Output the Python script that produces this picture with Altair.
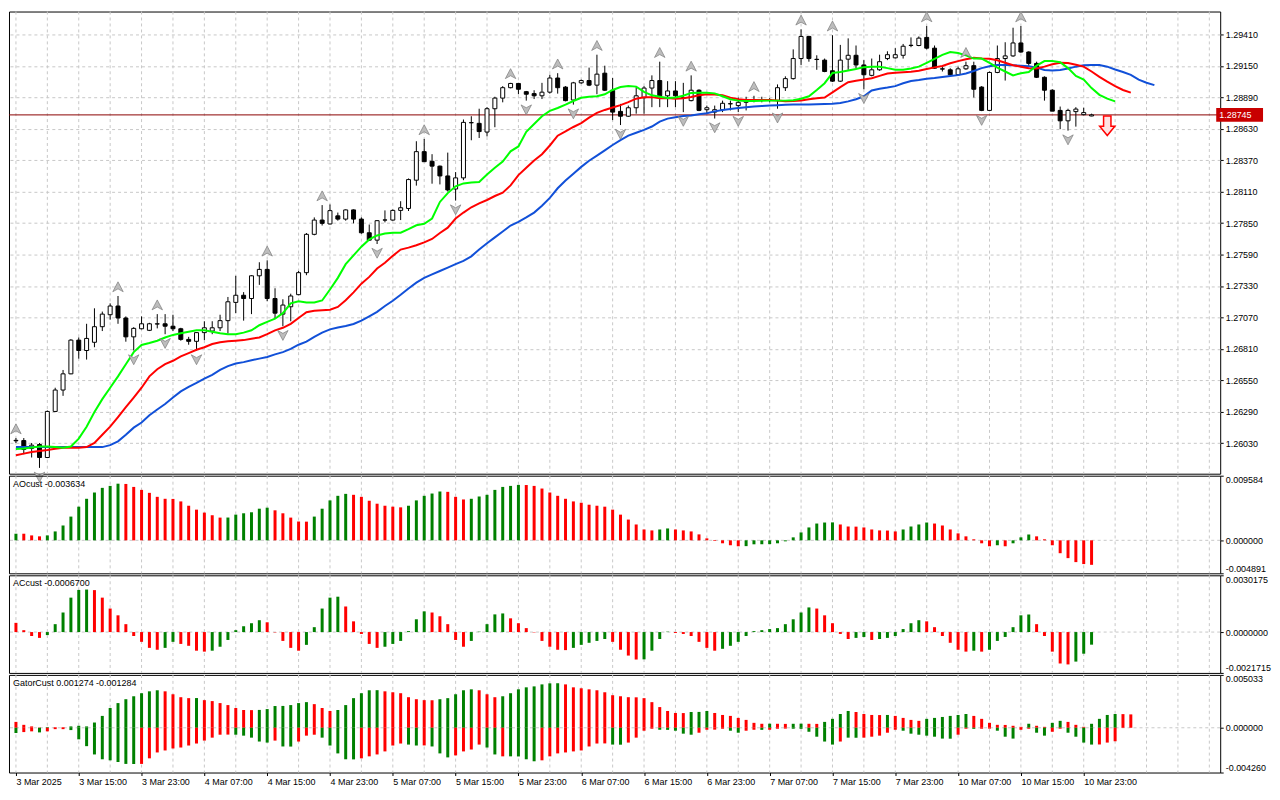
import altair as alt
import pandas as pd

FONT = "Liberation Sans"
FS = 9

# ---------------- price data (H1 bars, index 0 = 3 Mar 07:00) ----------------
OPEN = [1.26053, 1.26051, 1.25986, 1.26018, 1.25911, 1.26292, 1.26469, 1.26603, 1.26882, 1.26796,
        1.26864, 1.26993, 1.27092, 1.27164, 1.27065, 1.26909, 1.26976, 1.26963, 1.27015, 1.27017,
        1.26997, 1.26976, 1.26888, 1.26872, 1.26944, 1.26957, 1.26984, 1.27043, 1.27194, 1.27253,
        1.27226, 1.27414, 1.27467, 1.27226, 1.27097, 1.27158, 1.27258, 1.27440, 1.27757, 1.27875,
        1.27843, 1.27910, 1.27883, 1.27959, 1.27883, 1.27770, 1.27709, 1.27875, 1.27875, 1.27955,
        1.27971, 1.28205, 1.28441, 1.28361, 1.28321, 1.28240, 1.28132, 1.28224, 1.28681, 1.28675,
        1.28603, 1.28796, 1.28884, 1.28970, 1.29005, 1.28937, 1.28921, 1.28903, 1.28933, 1.29050,
        1.28975, 1.28868, 1.29010, 1.29029, 1.28991, 1.29090, 1.28949, 1.28774, 1.28734, 1.28804,
        1.28887, 1.28967, 1.29029, 1.28903, 1.28943, 1.28884, 1.28863, 1.28949, 1.28788, 1.28768,
        1.28788, 1.28836, 1.28822, 1.28849, 1.28868, 1.28868, 1.28867, 1.28863, 1.28970, 1.29045,
        1.29211, 1.29394, 1.29205, 1.29198, 1.29110, 1.29024, 1.29206, 1.29238, 1.29158, 1.29072,
        1.29118, 1.29211, 1.29217, 1.29238, 1.29319, 1.29319, 1.29386, 1.29297, 1.29126, 1.29118,
        1.29077, 1.29126, 1.29152, 1.28975, 1.28782, 1.29096, 1.29211, 1.29233, 1.29340, 1.29265,
        1.29171, 1.29056, 1.28949, 1.28782, 1.28696, 1.28772, 1.28747, 1.28736]
HIGH = [1.26072, 1.26072, 1.26031, 1.26031, 1.26300, 1.26488, 1.26635, 1.26890, 1.26904, 1.27017,
        1.27145, 1.27118, 1.27186, 1.27247, 1.27078, 1.26989, 1.27078, 1.27025, 1.27097, 1.27097,
        1.27092, 1.26984, 1.26909, 1.26947, 1.27038, 1.27038, 1.27092, 1.27239, 1.27414, 1.27279,
        1.27419, 1.27526, 1.27542, 1.27311, 1.27220, 1.27266, 1.27454, 1.27768, 1.27897, 1.27999,
        1.28004, 1.27937, 1.27963, 1.27963, 1.27897, 1.27838, 1.27875, 1.27955, 1.27963, 1.28031,
        1.28219, 1.28527, 1.28546, 1.28420, 1.28326, 1.28433, 1.28272, 1.28707, 1.28734, 1.28796,
        1.28809, 1.28895, 1.28983, 1.29010, 1.29010, 1.28943, 1.28949, 1.29010, 1.29077, 1.29090,
        1.28983, 1.29018, 1.29037, 1.29136, 1.29243, 1.29152, 1.29050, 1.28836, 1.28822, 1.28975,
        1.28983, 1.29072, 1.29185, 1.29024, 1.29024, 1.29010, 1.29072, 1.28957, 1.28822, 1.28822,
        1.28863, 1.28863, 1.28889, 1.28895, 1.28903, 1.28895, 1.28884, 1.28997, 1.29064, 1.29287,
        1.29453, 1.29399, 1.29238, 1.29211, 1.29404, 1.29324, 1.29378, 1.29319, 1.29198, 1.29211,
        1.29243, 1.29271, 1.29297, 1.29332, 1.29386, 1.29394, 1.29480, 1.29319, 1.29144, 1.29131,
        1.29144, 1.29185, 1.29185, 1.28983, 1.29104, 1.29319, 1.29346, 1.29466, 1.29480, 1.29271,
        1.29185, 1.29064, 1.28957, 1.28814, 1.28796, 1.28809, 1.28804, 1.28755]
LOW = [1.26031, 1.25938, 1.25911, 1.25825, 1.25906, 1.26287, 1.26421, 1.26600, 1.26729, 1.26721,
       1.26823, 1.26957, 1.27051, 1.27017, 1.26869, 1.26796, 1.26971, 1.26957, 1.26979, 1.26931,
       1.26957, 1.26877, 1.26844, 1.26796, 1.26882, 1.26931, 1.26957, 1.26936, 1.27105, 1.27043,
       1.27097, 1.27339, 1.27204, 1.27065, 1.26997, 1.27038, 1.27253, 1.27419, 1.27749, 1.27830,
       1.27838, 1.27870, 1.27870, 1.27848, 1.27762, 1.27703, 1.27677, 1.27856, 1.27870, 1.27875,
       1.27950, 1.28160, 1.28358, 1.28176, 1.28170, 1.28111, 1.28036, 1.28205, 1.28535, 1.28554,
       1.28567, 1.28643, 1.28849, 1.28965, 1.28916, 1.28863, 1.28876, 1.28876, 1.28921, 1.28921,
       1.28857, 1.28830, 1.29002, 1.28983, 1.28916, 1.28943, 1.28702, 1.28661, 1.28728, 1.28755,
       1.28755, 1.28809, 1.28809, 1.28809, 1.28809, 1.28768, 1.28857, 1.28776, 1.28755, 1.28715,
       1.28768, 1.28782, 1.28768, 1.28782, 1.28849, 1.28849, 1.28849, 1.28796, 1.28943, 1.29037,
       1.29158, 1.29185, 1.29118, 1.29098, 1.29018, 1.29018, 1.29118, 1.29126, 1.28957, 1.29064,
       1.29110, 1.29198, 1.29211, 1.29211, 1.29305, 1.29313, 1.29287, 1.29126, 1.29104, 1.29072,
       1.29072, 1.29118, 1.28889, 1.28776, 1.28776, 1.29090, 1.29029, 1.29225, 1.29259, 1.29144,
       1.29050, 1.28863, 1.28776, 1.28627, 1.28615, 1.28648, 1.28742, 1.28734]
CLOSE = [1.26049, 1.25978, 1.26013, 1.25911, 1.26292, 1.26469, 1.26603, 1.26882, 1.26796, 1.26896,
         1.26993, 1.27097, 1.27164, 1.27065, 1.26909, 1.26979, 1.27017, 1.27017, 1.27017, 1.26997,
         1.26976, 1.26888, 1.26872, 1.26944, 1.26984, 1.26984, 1.27043, 1.27199, 1.27253, 1.27226,
         1.27414, 1.27467, 1.27226, 1.27105, 1.27172, 1.27247, 1.27440, 1.27757, 1.27875, 1.27848,
         1.27953, 1.27883, 1.27959, 1.27883, 1.27770, 1.27709, 1.27870, 1.27876, 1.27955, 1.27977,
         1.28210, 1.28441, 1.28358, 1.28321, 1.28240, 1.28124, 1.28224, 1.28683, 1.28680, 1.28607,
         1.28796, 1.28884, 1.28970, 1.29005, 1.28957, 1.28916, 1.28903, 1.28933, 1.29050, 1.28970,
         1.28863, 1.29010, 1.29029, 1.28991, 1.29082, 1.28949, 1.28768, 1.28734, 1.28804, 1.28903,
         1.28967, 1.29029, 1.28903, 1.28943, 1.28903, 1.28887, 1.28949, 1.28782, 1.28804, 1.28788,
         1.28841, 1.28838, 1.28849, 1.28868, 1.28871, 1.28867, 1.28868, 1.28970, 1.29045, 1.29211,
         1.29394, 1.29211, 1.29203, 1.29104, 1.29024, 1.29198, 1.29238, 1.29158, 1.29077, 1.29118,
         1.29185, 1.29243, 1.29243, 1.29313, 1.29321, 1.29380, 1.29297, 1.29131, 1.29124, 1.29077,
         1.29126, 1.29152, 1.28957, 1.28782, 1.29096, 1.29211, 1.29233, 1.29340, 1.29265, 1.29171,
         1.29056, 1.28949, 1.28776, 1.28696, 1.28782, 1.28793, 1.28764, 1.28745]

# Alligator lines (already shifted forward)
JAW = [1.25997] * 12 + [
    1.26013, 1.26045, 1.26099, 1.26158, 1.26200, 1.26260, 1.26308, 1.26353, 1.26407, 1.26458,
    1.26496, 1.26528, 1.26563, 1.26595, 1.26635, 1.26667, 1.26689, 1.26700, 1.26716, 1.26729,
    1.26743, 1.26764, 1.26783, 1.26810, 1.26844, 1.26869, 1.26909, 1.26944, 1.26971, 1.26987,
    1.26999, 1.27015, 1.27043, 1.27079, 1.27116, 1.27164, 1.27208, 1.27257, 1.27309, 1.27357,
    1.27397, 1.27426, 1.27454, 1.27482, 1.27510, 1.27538, 1.27575, 1.27631, 1.27683, 1.27732,
    1.27780, 1.27830, 1.27860, 1.27897, 1.27937, 1.27993, 1.28058, 1.28138, 1.28202, 1.28259,
    1.28315, 1.28366, 1.28408, 1.28452, 1.28496, 1.28537, 1.28573, 1.28597, 1.28621, 1.28649,
    1.28689, 1.28714, 1.28726, 1.28736, 1.28740, 1.28750, 1.28758, 1.28774, 1.28786, 1.28794,
    1.28802, 1.28809, 1.28814, 1.28818, 1.28822, 1.28825, 1.28828, 1.28830, 1.28830, 1.28830,
    1.28833, 1.28836, 1.28838, 1.28844, 1.28857, 1.28875, 1.28899, 1.28947, 1.28961, 1.28971,
    1.28983, 1.29007, 1.29026, 1.29034, 1.29044, 1.29050, 1.29058, 1.29066, 1.29074, 1.29088,
    1.29108, 1.29132, 1.29148, 1.29158, 1.29158, 1.29156, 1.29152, 1.29147, 1.29136, 1.29116,
    1.29112, 1.29116, 1.29128, 1.29144, 1.29156, 1.29158, 1.29158, 1.29144, 1.29120, 1.29100,
    1.29076, 1.29036, 1.29011, 1.28991]
TEETH = [1.25930, 1.25943, 1.25956, 1.25965, 1.25973, 1.25983, 1.25991, 1.25991, 1.25991, 1.25997,
         1.26031, 1.26099, 1.26166, 1.26246, 1.26327, 1.26407, 1.26488, 1.26582, 1.26641, 1.26683,
         1.26711, 1.26748, 1.26775, 1.26802, 1.26823, 1.26850, 1.26864, 1.26872, 1.26877, 1.26882,
         1.26893, 1.26904, 1.26931, 1.26963, 1.26984, 1.27017, 1.27065, 1.27113, 1.27124, 1.27129,
         1.27134, 1.27156, 1.27212, 1.27277, 1.27349, 1.27405, 1.27474, 1.27522, 1.27579, 1.27631,
         1.27647, 1.27667, 1.27691, 1.27719, 1.27768, 1.27812, 1.27888, 1.27937, 1.27981, 1.28013,
         1.28041, 1.28074, 1.28102, 1.28162, 1.28247, 1.28307, 1.28367, 1.28420, 1.28492, 1.28573,
         1.28609, 1.28645, 1.28677, 1.28722, 1.28762, 1.28786, 1.28806, 1.28826, 1.28850, 1.28879,
         1.28891, 1.28892, 1.28883, 1.28885, 1.28879, 1.28883, 1.28893, 1.28907, 1.28916, 1.28913,
         1.28907, 1.28888, 1.28875, 1.28868, 1.28868, 1.28868, 1.28868, 1.28864, 1.28857, 1.28860,
         1.28865, 1.28875, 1.28882, 1.28889, 1.28931, 1.28975, 1.29015, 1.29028, 1.29037, 1.29048,
         1.29068, 1.29088, 1.29094, 1.29098, 1.29102, 1.29110, 1.29124, 1.29138, 1.29150, 1.29172,
         1.29190, 1.29205, 1.29217, 1.29211, 1.29209, 1.29197, 1.29176, 1.29156, 1.29144, 1.29131,
         1.29128, 1.29144, 1.29164, 1.29176, 1.29174, 1.29160, 1.29144, 1.29104, 1.29060, 1.29020,
         1.28983, 1.28951, 1.28929]
LIPS = [1.25981, 1.25986, 1.25994, 1.26002, 1.26002, 1.25997, 1.25991, 1.26002, 1.26067, 1.26166,
        1.26287, 1.26394, 1.26488, 1.26582, 1.26683, 1.26783, 1.26842, 1.26858, 1.26877, 1.26904,
        1.26925, 1.26939, 1.26952, 1.26963, 1.26963, 1.26952, 1.26939, 1.26931, 1.26931, 1.26944,
        1.26963, 1.27005, 1.27033, 1.27059, 1.27105, 1.27186, 1.27204, 1.27194, 1.27194, 1.27210,
        1.27301, 1.27397, 1.27510, 1.27583, 1.27655, 1.27715, 1.27748, 1.27764, 1.27770, 1.27770,
        1.27800, 1.27832, 1.27844, 1.27888, 1.28025, 1.28098, 1.28154, 1.28178, 1.28186, 1.28190,
        1.28251, 1.28307, 1.28359, 1.28444, 1.28484, 1.28605, 1.28669, 1.28734, 1.28778, 1.28802,
        1.28830, 1.28860, 1.28887, 1.28895, 1.28900, 1.28915, 1.28951, 1.28975, 1.28983, 1.28979,
        1.28935, 1.28907, 1.28895, 1.28884, 1.28889, 1.28903, 1.28927, 1.28929, 1.28929, 1.28923,
        1.28899, 1.28875, 1.28863, 1.28859, 1.28859, 1.28861, 1.28863, 1.28863, 1.28863, 1.28867,
        1.28879, 1.28899, 1.28951, 1.29007, 1.29092, 1.29100, 1.29112, 1.29124, 1.29140, 1.29144,
        1.29144, 1.29132, 1.29118, 1.29118, 1.29128, 1.29144, 1.29176, 1.29209, 1.29241, 1.29265,
        1.29257, 1.29237, 1.29211, 1.29211, 1.29176, 1.29136, 1.29104, 1.29072, 1.29090, 1.29100,
        1.29152, 1.29190, 1.29190, 1.29181, 1.29132, 1.29068, 1.29037, 1.28967, 1.28911, 1.28879,
        1.28857]

FRACTAL_UP = [0, 13, 18, 32, 39, 52, 63, 69, 74, 82, 86, 94, 100, 104, 116, 121, 128]
FRACTAL_DOWN = [3, 15, 19, 23, 34, 46, 56, 65, 71, 77, 85, 89, 92, 97, 108, 123, 134]

LAST_PRICE = 1.28745
SIGNAL_BAR = 139
SIGNAL_PRICE = 1.28655

PRICE_TICKS = [1.26030, 1.26290, 1.26550, 1.26810, 1.27070, 1.27330, 1.27590,
               1.27850, 1.28110, 1.28370, 1.28630, 1.28890, 1.29150, 1.29410]
TIME_TICKS = [0, 8, 16, 24, 32, 40, 48, 56, 64, 72, 80, 88, 96, 104, 112, 120, 128, 136]
TIME_LABELS = ["3 Mar 2025", "3 Mar 15:00", "3 Mar 23:00", "4 Mar 07:00", "4 Mar 15:00",
               "4 Mar 23:00", "5 Mar 07:00", "5 Mar 15:00", "5 Mar 23:00", "6 Mar 07:00",
               "6 Mar 15:00", "6 Mar 23:00", "7 Mar 07:00", "7 Mar 15:00", "7 Mar 23:00",
               "10 Mar 07:00", "10 Mar 15:00", "10 Mar 23:00"]
GRID_X = list(range(0, 153, 4))

# ---------------- oscillators ----------------
AO = [0.00098, 0.00098, 0.00073, 0.00059, 0.00073, 0.00132, 0.00220, 0.00352, 0.00499, 0.00616,
      0.00709, 0.00778, 0.00807, 0.00840, 0.00836, 0.00792, 0.00748, 0.00704, 0.00645, 0.00616,
      0.00614, 0.00577, 0.00513, 0.00455, 0.00411, 0.00372, 0.00337, 0.00338, 0.00381, 0.00401,
      0.00416, 0.00469, 0.00484, 0.00445, 0.00401, 0.00337, 0.00279, 0.00277, 0.00352, 0.00469,
      0.00592, 0.00660, 0.00689, 0.00675, 0.00645, 0.00587, 0.00543, 0.00513, 0.00499, 0.00489,
      0.00513, 0.00592, 0.00660, 0.00694, 0.00724, 0.00719, 0.00645, 0.00606, 0.00616, 0.00650,
      0.00675, 0.00748, 0.00792, 0.00807, 0.00822, 0.00820, 0.00807, 0.00768, 0.00709, 0.00660,
      0.00616, 0.00577, 0.00557, 0.00528, 0.00513, 0.00499, 0.00455, 0.00381, 0.00308, 0.00235,
      0.00161, 0.00147, 0.00161, 0.00176, 0.00161, 0.00147, 0.00132, 0.00088, 0.00029, -0.00010,
      -0.00044, -0.00073, -0.00088, -0.00086, -0.00059, -0.00058, -0.00057, -0.00044, -0.00015, 0.00044,
      0.00117, 0.00191, 0.00249, 0.00264, 0.00266, 0.00235, 0.00205, 0.00203, 0.00191, 0.00161,
      0.00147, 0.00145, 0.00132, 0.00161, 0.00205, 0.00235, 0.00264, 0.00249, 0.00220, 0.00161,
      0.00103, 0.00059, 0.00015, -0.00044, -0.00088, -0.00073, -0.00088, -0.00044, 0.00044, 0.00088,
      0.00059, 0.00015, -0.00073, -0.00191, -0.00264, -0.00323, -0.00352, -0.003634]
AO_COLOR = ("grrrgggggg" "ggggrrrrrr" "rrrrrrrggg" "gggrrrrrgg" "gggrrrrrrr"
            "gggggrrrgg" "gggggrrrrr" "rrrrrrrrrr" "rrggrrrrrr" "rrrggggggg"
            "gggggrrrrr" "rrrggggrrr" "rrrrrgrggg" "rrrrrrrr")

AC = [0.00049, 0.00010, -0.00021, -0.00031, -0.00016, 0.00042, 0.00104, 0.00183, 0.00224, 0.00226,
      0.00223, 0.00183, 0.00125, 0.00089, 0.00042, -0.00021, -0.00052, -0.00084, -0.00094, -0.00084,
      -0.00052, -0.00063, -0.00073, -0.00099, -0.00104, -0.00099, -0.00078, -0.00042, 0.00010, 0.00031,
      0.00047, 0.00063, 0.00052, -0.00002, -0.00047, -0.00084, -0.00099, -0.00068, 0.00026, 0.00125,
      0.00183, 0.00188, 0.00136, 0.00057, -0.00010, -0.00063, -0.00084, -0.00078, -0.00063, -0.00047,
      0.00005, 0.00068, 0.00110, 0.00104, 0.00084, 0.00042, -0.00042, -0.00078, -0.00047, 0.00002,
      0.00042, 0.00094, 0.00099, 0.00073, 0.00047, 0.00021, -0.00002, -0.00047, -0.00078, -0.00094,
      -0.00096, -0.00084, -0.00068, -0.00057, -0.00047, -0.00037, -0.00052, -0.00094, -0.00125, -0.00146,
      -0.00145, -0.00099, -0.00037, 0.00002, -0.00005, -0.00010, -0.00021, -0.00052, -0.00084, -0.00099,
      -0.00089, -0.00073, -0.00052, -0.00021, 0.00005, 0.00010, 0.00016, 0.00021, 0.00042, 0.00068,
      0.00104, 0.00131, 0.00125, 0.00089, 0.00047, -0.00010, -0.00037, -0.00031, -0.00026, -0.00042,
      -0.00037, -0.00031, -0.00021, 0.00016, 0.00047, 0.00063, 0.00057, 0.00026, -0.00021, -0.00057,
      -0.00094, -0.00104, -0.00099, -0.00104, -0.00094, -0.00047, -0.00026, 0.00026, 0.00089, 0.00094,
      0.00042, -0.00021, -0.00104, -0.00167, -0.00172, -0.00157, -0.00115, -0.00067]
AC_COLOR = ("rrrrgggggg" "rrrrrrrrrg" "grrrrggggg" "ggrrrrrggg" "ggrrrrrggg"
            "gggrrrrrgg" "gggrrrrrrr" "rgggggrrrr" "ggggrrrrrr" "gggggggggg"
            "ggrrrrrggr" "ggggggrrrr" "rrgrgggggg" "rrrrrggg")

GATOR_UP = [0.00056, 0.00028, 0.00013, 0.00003, 0.00006, 0.00006, 0.00006, 0.00013, 0.00019, 0.00013,
            0.00050, 0.00113, 0.00188, 0.00235, 0.00272, 0.00300, 0.00329, 0.00347, 0.00357, 0.00347,
            0.00319, 0.00291, 0.00282, 0.00283, 0.00263, 0.00254, 0.00235, 0.00216, 0.00188, 0.00169,
            0.00168, 0.00170, 0.00178, 0.00207, 0.00208, 0.00216, 0.00235, 0.00244, 0.00225, 0.00188,
            0.00160, 0.00169, 0.00216, 0.00282, 0.00329, 0.00357, 0.00358, 0.00347, 0.00338, 0.00329,
            0.00291, 0.00272, 0.00263, 0.00262, 0.00272, 0.00282, 0.00319, 0.00357, 0.00366, 0.00357,
            0.00319, 0.00291, 0.00300, 0.00329, 0.00366, 0.00385, 0.00394, 0.00413, 0.00423, 0.00424,
            0.00413, 0.00385, 0.00376, 0.00366, 0.00357, 0.00338, 0.00310, 0.00300, 0.00291, 0.00290,
            0.00282, 0.00244, 0.00197, 0.00160, 0.00141, 0.00140, 0.00150, 0.00151, 0.00160, 0.00141,
            0.00122, 0.00113, 0.00094, 0.00075, 0.00047, 0.00038, 0.00039, 0.00038, 0.00037, 0.00038,
            0.00039, 0.00038, 0.00037, 0.00056, 0.00085, 0.00131, 0.00160, 0.00150, 0.00131, 0.00122,
            0.00121, 0.00122, 0.00113, 0.00094, 0.00075, 0.00066, 0.00085, 0.00094, 0.00103, 0.00113,
            0.00122, 0.00131, 0.00113, 0.00085, 0.00047, 0.00028, 0.00027, 0.00019, 0.00009, 0.00038,
            0.00019, 0.00009, 0.00047, 0.00066, 0.00056, 0.00028, 0.00009, 0.00038, 0.00085, 0.00122,
            0.00131, 0.00130, 0.001274]
GATOR_UP_COLOR = ("rrrrgrrggg" "gggggggggr" "rrrgrrrrrr" "rgggggggrr" "rggggggrrr"
                  "rrrrgggggr" "rrgggggggg" "rrrrrrrrrr" "rrrrrrgggr" "rrrrrrgrrg"
                  "grrggggrrr" "rgrrrrgggg" "ggrrrrrrrg" "rrggrrrggg" "grr")
GATOR_DN = [-0.00050, -0.00041, -0.00034, -0.00044, -0.00034, -0.00013, -0.00013, -0.00022, -0.00110, -0.00175,
            -0.00254, -0.00300, -0.00310, -0.00326, -0.00344, -0.00345, -0.00344, -0.00291, -0.00235, -0.00216,
            -0.00197, -0.00188, -0.00169, -0.00150, -0.00122, -0.00094, -0.00066, -0.00065, -0.00066, -0.00075,
            -0.00094, -0.00131, -0.00141, -0.00122, -0.00178, -0.00179, -0.00131, -0.00075, -0.00066, -0.00094,
            -0.00169, -0.00244, -0.00300, -0.00301, -0.00291, -0.00272, -0.00254, -0.00225, -0.00169, -0.00150,
            -0.00160, -0.00169, -0.00168, -0.00178, -0.00244, -0.00282, -0.00263, -0.00225, -0.00207, -0.00160,
            -0.00188, -0.00254, -0.00272, -0.00272, -0.00273, -0.00300, -0.00319, -0.00310, -0.00272, -0.00244,
            -0.00235, -0.00225, -0.00216, -0.00178, -0.00150, -0.00149, -0.00160, -0.00161, -0.00141, -0.00094,
            -0.00028, -0.00009, -0.00019, -0.00020, -0.00028, -0.00056, -0.00066, -0.00047, -0.00019, -0.00018,
            -0.00009, -0.00028, -0.00047, -0.00028, -0.00019, -0.00020, -0.00019, -0.00009, -0.00008, -0.00009,
            -0.00010, -0.00038, -0.00085, -0.00131, -0.00160, -0.00131, -0.00094, -0.00095, -0.00094, -0.00085,
            -0.00075, -0.00047, -0.00019, -0.00028, -0.00056, -0.00066, -0.00075, -0.00085, -0.00103, -0.00104,
            -0.00066, -0.00009, -0.00010, -0.00009, -0.00008, -0.00028, -0.00085, -0.00103, -0.00019, -0.00009,
            -0.00047, -0.00075, -0.00038, -0.00009, -0.00047, -0.00085, -0.00141, -0.00160, -0.00159, -0.00141,
            -0.001284]
GATOR_DN_COLOR = ("grrgrrrggg" "ggggggrrrr" "rrrrrrrrgg" "gggrggrrrg" "ggggrrrrrr"
                  "ggrgggrrrr" "ggrggggrrr" "rrrrrrggrr" "rrgggggrrr" "rggrrgrrrg"
                  "gggggrggrr" "rrrggggggg" "rrgrrgggrr" "ggrrggggrr" "r")

AO_RANGE = [-0.004891, 0.009584]
AC_RANGE = [-0.0021715, 0.0030175]
GATOR_RANGE = [-0.004260, 0.005033]

# ---------------- layout ----------------
X_MIN, X_MAX = -0.25, 152.75
W = 1216
H_MAIN = 464
H_SUB = 98
GRID_COLOR = "#c8c8c8"
GREEN, RED = "#008000", "#ff0000"

xs = alt.Scale(domain=[X_MIN, X_MAX], nice=False, zero=False)
ys_main = alt.Scale(domain=[1.25777, 1.29600], nice=False, zero=False)

main_axis = alt.Axis(orient="right", values=PRICE_TICKS, format=".5f", title=None,
                     grid=True, gridDash=[3, 3], gridColor=GRID_COLOR, tickSize=3,
                     labelPadding=2, domain=False, labelFlush=False)


def sub_axis(rng, digits):
    fmt = "'.%df'" % digits
    expr = "(datum.value < 0 ? '-' : '') + format(abs(datum.value), %s)" % fmt
    return alt.Axis(orient="right", values=[rng[0], 0, rng[1]], labelExpr=expr, title=None,
                    grid=False, tickSize=3, labelPadding=2, domain=False, labelFlush=True)


labels_js = "[" + ",".join("'%s'" % s for s in TIME_LABELS) + "]"
ticks_js = "[" + ",".join(str(t) for t in TIME_TICKS) + "]"
time_axis = alt.Axis(values=TIME_TICKS, labelExpr="%s[indexof(%s, datum.value)]" % (labels_js, ticks_js),
                     labelAlign="left", labelBaseline="top", labelPadding=2, tickSize=3,
                     labelOverlap=False, labelBound=False, labelFlush=False, grid=False,
                     domain=False, title=None)

candles = pd.DataFrame({"i": range(len(OPEN)), "o": OPEN, "h": HIGH, "l": LOW, "c": CLOSE})
candles["bull"] = candles["c"] >= candles["o"]


def xenc(axis=None):
    return alt.X("i:Q", scale=xs, axis=axis, title=None)


def vgrid(axis=None):
    return alt.Chart(pd.DataFrame({"i": GRID_X})).mark_rule(
        color=GRID_COLOR, strokeDash=[3, 3], strokeWidth=1).encode(x=xenc(axis))


ym = lambda f: alt.Y(f, scale=ys_main, axis=main_axis, title=None)

price_line = alt.Chart(pd.DataFrame({"p": [LAST_PRICE]})).mark_rule(
    color="#8a0000", strokeWidth=1).encode(y=ym("p:Q"))

wicks = alt.Chart(candles).mark_rule(color="black", strokeWidth=1).encode(
    x=xenc(), y=ym("l:Q"), y2="h:Q")
bodies = alt.Chart(candles).mark_bar(size=4, stroke="black", strokeWidth=1).encode(
    x=xenc(), y=ym("o:Q"), y2="c:Q",
    fill=alt.condition("datum.bull", alt.value("white"), alt.value("black")))


def line_layer(vals, color):
    df = pd.DataFrame({"i": range(len(vals)), "v": vals})
    return alt.Chart(df).mark_line(color=color, strokeWidth=2).encode(x=xenc(), y=ym("v:Q"))


jaw = line_layer(JAW, "#1150d8")
teeth = line_layer(TEETH, "#ff0000")
lips = line_layer(LIPS, "#00ff00")

UP_SHAPE = "M0,-1 L1,0.9 L0,0.35 L-1,0.9 Z"
DN_SHAPE = "M0,1 L1,-0.9 L0,-0.35 L-1,-0.9 Z"
fr_up = alt.Chart(candles[candles["i"].isin(FRACTAL_UP)]).mark_point(
    shape=UP_SHAPE, size=110, filled=True, fill="#bdbdbd", stroke="#7c7c7c",
    strokeWidth=0.7, opacity=1, yOffset=-9).encode(x=xenc(), y=ym("h:Q"))
fr_dn = alt.Chart(candles[candles["i"].isin(FRACTAL_DOWN)]).mark_point(
    shape=DN_SHAPE, size=110, filled=True, fill="#bdbdbd", stroke="#7c7c7c",
    strokeWidth=0.7, opacity=1, yOffset=9).encode(x=xenc(), y=ym("l:Q"))

SIG_SHAPE = "M-0.38,-1 L0.38,-1 L0.38,0.05 L0.78,0.05 L0,1 L-0.78,0.05 L-0.38,0.05 Z"
signal = alt.Chart(pd.DataFrame({"i": [SIGNAL_BAR], "p": [SIGNAL_PRICE]})).mark_point(
    shape=SIG_SHAPE, size=380, filled=True, fill="#ffe2e2", stroke="#ff0000",
    strokeWidth=1.5, opacity=1).encode(x=xenc(), y=ym("p:Q"))

box_df = pd.DataFrame({"i": [X_MAX], "p": [LAST_PRICE], "t": ["%.5f" % LAST_PRICE]})
BOX_SHAPE = "M-1,-0.29 L1,-0.29 L1,0.29 L-1,0.29 Z"
price_box = alt.Chart(box_df).mark_point(
    shape=BOX_SHAPE, size=2209, filled=True, fill="#c80000", strokeWidth=0,
    opacity=1, xOffset=24.5).encode(x=xenc(), y=ym("p:Q"))
price_txt = alt.Chart(box_df).mark_text(
    color="white", font=FONT, fontSize=FS, align="left", baseline="middle", dx=4).encode(
    x=xenc(), y=ym("p:Q"), text="t:N")

main = alt.layer(vgrid(), price_line, wicks, bodies, jaw, teeth, lips,
                 fr_up, fr_dn, signal, price_box, price_txt).properties(width=W, height=H_MAIN)


def osc_panel(values, colors, rng, digits, title, extra=None, xaxis=None):
    ysc = alt.Scale(domain=rng, nice=False, zero=False)
    yax = sub_axis(rng, digits)
    layers = [vgrid(xaxis)]
    zero = alt.Chart(pd.DataFrame({"z": [0.0]})).mark_rule(
        color=GRID_COLOR, strokeDash=[3, 3], strokeWidth=1).encode(
        y=alt.Y("z:Q", scale=ysc, axis=yax, title=None))
    layers.append(zero)
    sets = [(values, colors)] + ([extra] if extra else [])
    for vals, cols in sets:
        df = pd.DataFrame({"i": range(len(vals)), "v": vals, "col": list(cols)})
        layers.append(alt.Chart(df).mark_bar(size=3).encode(
            x=xenc(xaxis), y=alt.Y("v:Q", scale=ysc, axis=yax, title=None), y2=alt.datum(0),
            color=alt.Color("col:N", scale=alt.Scale(domain=["g", "r"], range=[GREEN, RED]),
                            legend=None)))
    layers.append(alt.Chart(pd.DataFrame({"t": [title]})).mark_text(
        font=FONT, fontSize=FS, align="left", baseline="middle", color="black").encode(
        x=alt.value(4), y=alt.value(8), text="t:N"))
    return alt.layer(*layers).properties(width=W, height=H_SUB)


ao = osc_panel(AO, AO_COLOR, AO_RANGE, 6, "AOcust -0.003634")
ac = osc_panel(AC, AC_COLOR, AC_RANGE, 7, "ACcust -0.0006700")
gator = osc_panel(GATOR_UP, GATOR_UP_COLOR, GATOR_RANGE, 6, "GatorCust 0.001274 -0.001284",
                  extra=(GATOR_DN, GATOR_DN_COLOR), xaxis=time_axis)

chart = alt.vconcat(main, ao, ac, gator, spacing=2, bounds="flush").properties(
    padding={"left": 0, "top": 0, "right": 0, "bottom": 0}, background="white"
).configure_view(stroke="black", strokeWidth=1).configure_axis(
    labelFont=FONT, labelFontSize=FS, labelColor="black", tickColor="black"
).configure_concat(spacing=2)

chart.save("out.html", embed_options={"renderer": "svg", "actions": False})
